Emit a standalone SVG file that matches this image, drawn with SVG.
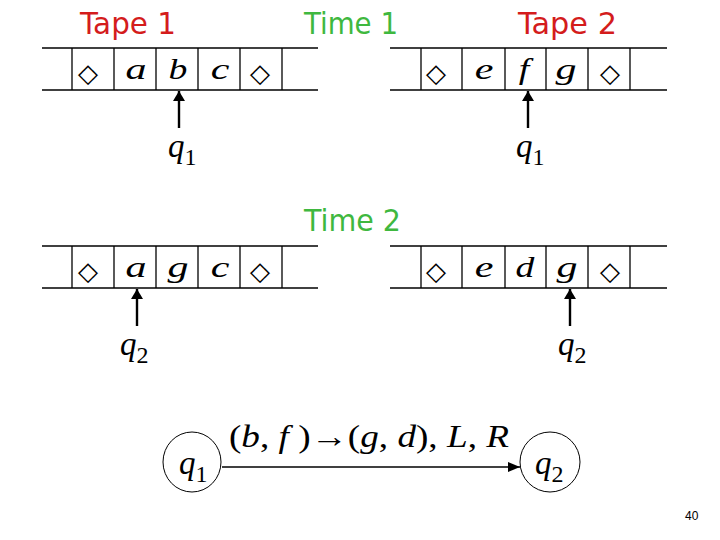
<svg xmlns="http://www.w3.org/2000/svg" width="720" height="540" viewBox="0 0 720 540">
<style>
.title{font-family:"DejaVu Sans",sans-serif;font-size:31px}
.red{fill:#d41c1c}
.green{fill:#3fb83f}
.tape line{stroke:#000;stroke-width:1.3}
.sym{font-family:"DejaVu Sans",sans-serif;font-size:26px;text-anchor:middle}
.let{font-family:"Liberation Serif",serif;font-style:italic;font-size:29px;text-anchor:middle}
.q{font-family:"Liberation Serif",serif;font-style:italic;font-size:33px}
.sub{font-family:"Liberation Serif",serif;font-style:normal;font-size:24px}
.lab{font-family:"Liberation Serif",serif;font-size:32px}
.it{font-style:italic}
.head{stroke:#000;stroke-width:2.4}
</style>
<defs>
<marker id="ah" markerWidth="10" markerHeight="12" refX="10" refY="6" orient="auto" markerUnits="userSpaceOnUse">
<path d="M0,0 L10,6 L0,12 Z" fill="#000"/>
</marker>
<marker id="ah2" markerWidth="12" markerHeight="10" refX="12" refY="5" orient="auto" markerUnits="userSpaceOnUse">
<path d="M0,0 L12,5 L0,10 Z" fill="#000"/>
</marker>
</defs>

<text class="title red" x="80" y="34" textLength="96" lengthAdjust="spacingAndGlyphs">Tape 1</text>
<text class="title green" x="304" y="34" textLength="94" lengthAdjust="spacingAndGlyphs">Time 1</text>
<text class="title red" x="518" y="34" textLength="99" lengthAdjust="spacingAndGlyphs">Tape 2</text>
<text class="title green" x="304" y="231" textLength="97" lengthAdjust="spacingAndGlyphs">Time 2</text>

<g id="tape1-time1" class="tape">
<line x1="42" y1="48" x2="318" y2="48"/>
<line x1="42" y1="90" x2="318" y2="90"/>
<line x1="72" y1="48" x2="72" y2="90"/>
<line x1="114" y1="48" x2="114" y2="90"/>
<line x1="156" y1="48" x2="156" y2="90"/>
<line x1="198" y1="48" x2="198" y2="90"/>
<line x1="240" y1="48" x2="240" y2="90"/>
<line x1="282" y1="48" x2="282" y2="90"/>
<text class="sym" x="88" y="82">◇</text>
<text class="let" transform="translate(136,79) scale(1.45,1)">a</text>
<text class="let" transform="translate(178,79) scale(1.3,1)">b</text>
<text class="let" transform="translate(220,79) scale(1.45,1)">c</text>
<text class="sym" x="260" y="82">◇</text>
</g>

<g id="tape2-time1" class="tape">
<line x1="390" y1="48" x2="667" y2="48"/>
<line x1="390" y1="90" x2="667" y2="90"/>
<line x1="421" y1="48" x2="421" y2="90"/>
<line x1="462" y1="48" x2="462" y2="90"/>
<line x1="505" y1="48" x2="505" y2="90"/>
<line x1="546" y1="48" x2="546" y2="90"/>
<line x1="588" y1="48" x2="588" y2="90"/>
<line x1="630" y1="48" x2="630" y2="90"/>
<text class="sym" x="436" y="82">◇</text>
<text class="let" transform="translate(484,79) scale(1.45,1)">e</text>
<text class="let" transform="translate(524,79) scale(1.3,1)">f</text>
<text class="let" transform="translate(566,79) scale(1.45,1)">g</text>
<text class="sym" x="610" y="82">◇</text>
</g>

<g id="tape1-time2" class="tape">
<line x1="42" y1="246" x2="318" y2="246"/>
<line x1="42" y1="288" x2="318" y2="288"/>
<line x1="72" y1="246" x2="72" y2="288"/>
<line x1="114" y1="246" x2="114" y2="288"/>
<line x1="156" y1="246" x2="156" y2="288"/>
<line x1="198" y1="246" x2="198" y2="288"/>
<line x1="240" y1="246" x2="240" y2="288"/>
<line x1="282" y1="246" x2="282" y2="288"/>
<text class="sym" x="88" y="280">◇</text>
<text class="let" transform="translate(136,277) scale(1.45,1)">a</text>
<text class="let" transform="translate(178,277) scale(1.45,1)">g</text>
<text class="let" transform="translate(220,277) scale(1.45,1)">c</text>
<text class="sym" x="260" y="280">◇</text>
</g>

<g id="tape2-time2" class="tape">
<line x1="390" y1="246" x2="667" y2="246"/>
<line x1="390" y1="288" x2="667" y2="288"/>
<line x1="421" y1="246" x2="421" y2="288"/>
<line x1="462" y1="246" x2="462" y2="288"/>
<line x1="505" y1="246" x2="505" y2="288"/>
<line x1="546" y1="246" x2="546" y2="288"/>
<line x1="588" y1="246" x2="588" y2="288"/>
<line x1="630" y1="246" x2="630" y2="288"/>
<text class="sym" x="436" y="280">◇</text>
<text class="let" transform="translate(484,277) scale(1.45,1)">e</text>
<text class="let" transform="translate(525,277) scale(1.3,1)">d</text>
<text class="let" transform="translate(567,277) scale(1.45,1)">g</text>
<text class="sym" x="610" y="280">◇</text>
</g>

<g id="heads">
<line class="head" x1="179" y1="128" x2="179" y2="91" marker-end="url(#ah)"/>
<line class="head" x1="528" y1="128" x2="528" y2="91" marker-end="url(#ah)"/>
<line class="head" x1="137" y1="326" x2="137" y2="289" marker-end="url(#ah)"/>
<line class="head" x1="570" y1="326" x2="570" y2="289" marker-end="url(#ah)"/>
</g>

<g id="head-labels">
<text class="q" x="168" y="157">q<tspan class="sub" dy="8">1</tspan></text>
<text class="q" x="516" y="157">q<tspan class="sub" dy="8">1</tspan></text>
<text class="q" x="120" y="355">q<tspan class="sub" dy="8">2</tspan></text>
<text class="q" x="558" y="355">q<tspan class="sub" dy="8">2</tspan></text>
</g>

<g id="state-q1">
<ellipse cx="192" cy="462" rx="29" ry="30" fill="none" stroke="#000" stroke-width="1"/>
<text class="q" x="179" y="474">q<tspan class="sub" dy="8">1</tspan></text>
</g>
<g id="state-q2">
<ellipse cx="550" cy="462" rx="30" ry="30" fill="none" stroke="#000" stroke-width="1"/>
<text class="q" x="535" y="474">q<tspan class="sub" dy="8">2</tspan></text>
</g>

<g id="connectors">
<line x1="222" y1="467" x2="520" y2="467" stroke="#000" stroke-width="1.5" marker-end="url(#ah2)"/>
<text class="lab" x="229" y="447" textLength="280" lengthAdjust="spacingAndGlyphs">(<tspan class="it">b</tspan>, <tspan class="it">f</tspan> )→(<tspan class="it">g</tspan>, <tspan class="it">d</tspan>), <tspan class="it">L</tspan>, <tspan class="it">R</tspan></text>
</g>

<text x="685" y="520" font-family="Liberation Sans, sans-serif" font-size="12">40</text>
</svg>
